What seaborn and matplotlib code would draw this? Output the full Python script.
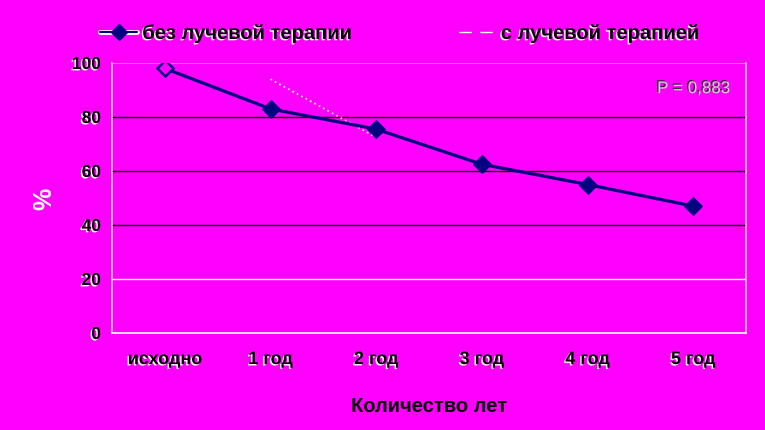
import numpy as np
import pandas as pd
import matplotlib
matplotlib.use('Agg')
import matplotlib.pyplot as plt
import matplotlib.patheffects as pe
from matplotlib.lines import Line2D
import seaborn as sns

# data
years = ['исходно', '1 год', '2 год', '3 год', '4 год', '5 год']
no_radio = [98, 83, 75.5, 62.5, 55, 47]
with_radio = [98, 94, 72.5, np.nan, np.nan, np.nan]
p_text = 'Р = 0,883'

bg = '#ff00ff'
navy = '#000080'

sns.set_style('white')
plt.rcParams['font.family'] = ['Liberation Sans', 'DejaVu Sans']
plt.rcParams['text.color'] = 'black'

fig = plt.figure(figsize=(7.65, 4.31), dpi=100, facecolor=bg)
ax = fig.add_axes([0.1464, 0.225, 0.8288, 0.6265])
ax.set_facecolor(bg)

df = pd.DataFrame({'x': range(len(years)), 'a': no_radio, 'b': with_radio})

# dotted series, only the 1-2 year segment shows
seg = df.iloc[1:3]
sns.lineplot(x=seg['x'], y=seg['b'], ax=ax, color='#e8ffe0', lw=1.2,
             linestyle=(0, (1, 2)), zorder=2)
ax.scatter(df['x'][:1], df['b'][:1], marker='D', s=55, facecolor=bg,
           edgecolor=navy, lw=1, zorder=4)

sns.lineplot(data=df, x='x', y='a', ax=ax, color=navy, lw=2.3, marker='D',
             markersize=9.5, markeredgecolor=navy, zorder=3)

ax.set_xlim(-0.5, 5.5)
ax.set_ylim(0, 100)
ax.set_yticks(range(0, 101, 20))
for v in (40, 60, 80):
    ax.axhline(v, color='black', lw=1, zorder=1)
ax.axhline(20, color='white', lw=1, zorder=1)
ax.axhline(100, color='#a0a0a0', lw=1.5, zorder=1)

ax.spines['top'].set_visible(False)
ax.spines['left'].set_color('#c8c8c8')
ax.spines['right'].set_color('#c8c8c8')
ax.spines['bottom'].set_color('white')
for s in ax.spines.values():
    s.set_linewidth(1.2)

shadow = [pe.withSimplePatchShadow(offset=(-1, -1), shadow_rgbFace='white', alpha=1)]
ax.set_xticks(range(len(years)))
ax.set_xticklabels(years, fontsize=13, fontweight='bold', color='black')
ax.set_xticks(np.arange(-0.5, 6, 1), minor=True)
ax.tick_params(axis='x', which='major', length=0, pad=13)
ax.tick_params(axis='x', which='minor', length=4, color='white', width=1)
ax.tick_params(axis='y', length=5, color='black', width=1, pad=3,
               labelsize=12.5, labelcolor='black')
for t in ax.get_yticklabels() + ax.get_xticklabels():
    t.set_fontweight('bold')
    t.set_path_effects(shadow)

ax.set_xlabel('Количество лет', fontsize=14.5, fontweight='bold',
              color='black', labelpad=20)
ax.set_ylabel('%', fontsize=18, fontweight='bold', color='white', labelpad=11)

ax.text(0.975, 0.905, p_text, transform=ax.transAxes, ha='right', va='center',
        fontsize=12.2, color='#d0d0d0',
        path_effects=[pe.withSimplePatchShadow(offset=(-1, 1), shadow_rgbFace='#303030', alpha=1)])

h1_line = Line2D([], [], color=navy, lw=1.5,
                 path_effects=[pe.Stroke(linewidth=3.5, foreground='white'), pe.Normal()])
h1_mark = Line2D([], [], color=navy, lw=0, marker='D', markersize=8)
h2 = Line2D([], [], color='white', lw=1, dashes=(9, 6))
leg = fig.legend([(h1_line, h1_mark), h2], ['без лучевой терапии', 'с лучевой терапией'],
                 loc='center left', bbox_to_anchor=(0.107, 0.92), ncol=2,
                 frameon=False, prop={'size': 14.5, 'weight': 'bold'},
                 handlelength=1.85, handletextpad=0.25, columnspacing=5.3)
for t in leg.get_texts():
    t.set_color('black')
    t.set_path_effects(shadow)

fig.savefig('out.png', dpi=100, facecolor=bg)
